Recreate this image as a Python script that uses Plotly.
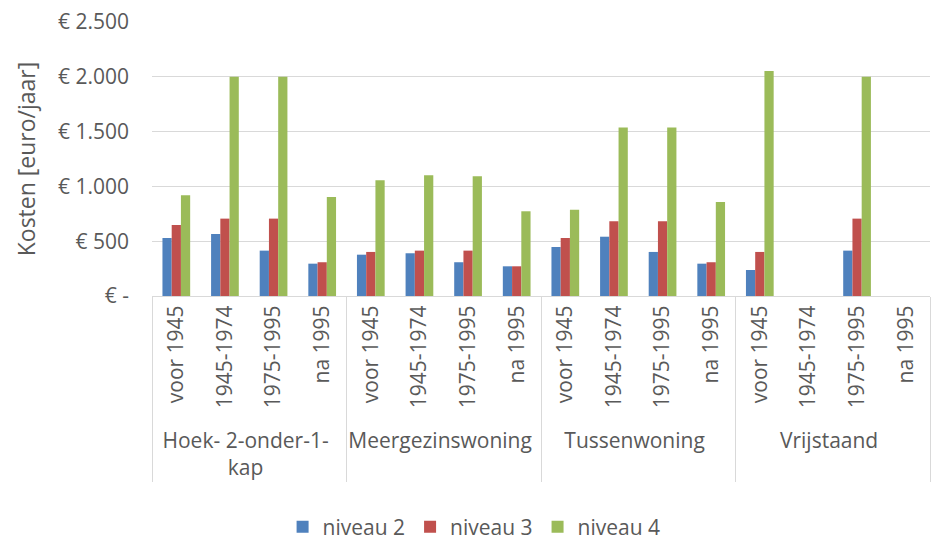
import plotly.graph_objects as go

groups = ["Hoek- 2-onder-1-<br>kap", "Meergezinswoning", "Tussenwoning", "Vrijstaand"]
periods = ["voor 1945", "1945-1974", "1975-1995", "na 1995"]

niveau2 = [529, 566, 414, 295,   377, 390, 308, 271,   447, 541, 402, 295,   237, None, 414, None]
niveau3 = [648, 706, 706, 308,   402, 414, 414, 271,   529, 682, 682, 308,   402, None, 706, None]
niveau4 = [919, 2000, 2000, 904, 1056, 1102, 1093, 773, 788, 1537, 1537, 858, 2052, None, 2000, None]

series_names = ["niveau 2", "niveau 3", "niveau 4"]
colors = ["#4F81BD", "#C0504D", "#9BBB59"]

ytick_vals = [0, 500, 1000, 1500, 2000, 2500]
ytick_text = ["€ -", "€ 500", "€ 1.000", "€ 1.500", "€ 2.000", "€ 2.500"]

x_outer = [g for g in groups for _ in periods]
x_inner = [p for _ in groups for p in periods]

fig = go.Figure()
for name, vals, col in zip(series_names, [niveau2, niveau3, niveau4], colors):
    fig.add_trace(go.Bar(x=[x_outer, x_inner], y=vals, name=name,
                         marker=dict(color=col, line=dict(width=0))))

font_col = "#595959"
FONT = "Open Sans, sans-serif"
fig.update_layout(
    width=933, height=540,
    margin=dict(l=152, r=3, t=22, b=244, autoexpand=False),
    paper_bgcolor="white", plot_bgcolor="white",
    font=dict(family=FONT, size=20, color=font_col),
    barmode="group", bargap=0.43, bargroupgap=0,
    showlegend=True,
    legend=dict(orientation="h", x=0.414, xanchor="center",
                y=-0.843, yanchor="middle",
                font=dict(family=FONT, size=21, color=font_col),
                itemwidth=30, traceorder="normal"),
)
fig.update_yaxes(range=[0, 2500], tickvals=ytick_vals, ticktext=ytick_text,
                 showgrid=True, gridcolor="#D9D9D9", gridwidth=1, zeroline=False,
                 showline=False, ticks="", automargin=False, ticklabelstandoff=22,
                 title=dict(text="Kosten [euro/jaar]", font=dict(family=FONT, size=23, color=font_col)),
                 tickfont=dict(family=FONT, size=21, color=font_col))
fig.update_xaxes(type="multicategory", tickangle=-90, showline=True, linecolor="#D9D9D9",
                 showdividers=True, dividercolor="#D9D9D9", dividerwidth=1, automargin=False,
                 ticks="outside", ticklen=17, tickcolor="rgba(0,0,0,0)",
                 tickfont=dict(family=FONT, size=21, color=font_col), showgrid=False)

fig.write_html("out.html", post_script="document.body.style.margin='0';",
               config={"displayModeBar": False})
